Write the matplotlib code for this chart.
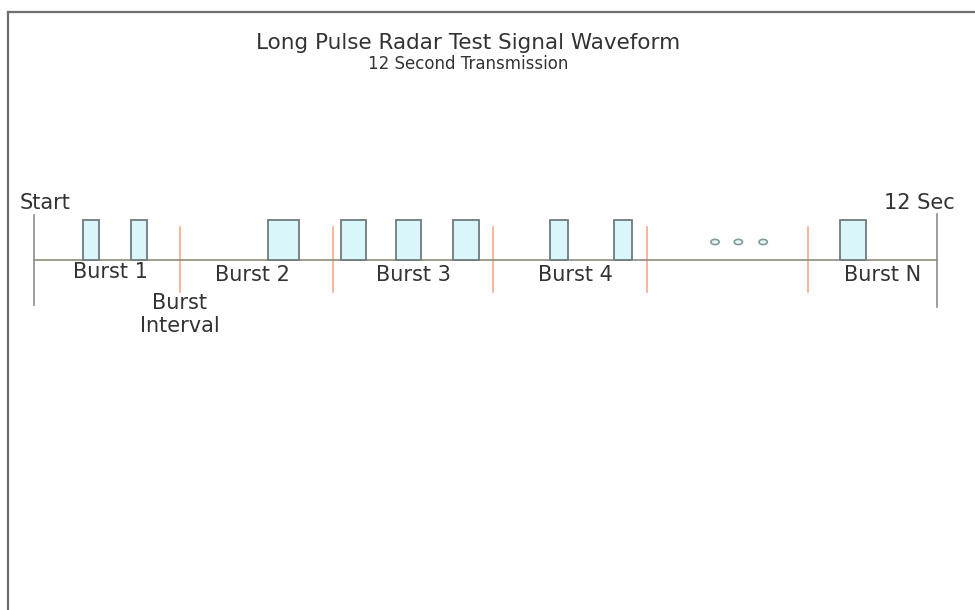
import matplotlib
matplotlib.use('Agg')
import matplotlib.pyplot as plt
from matplotlib.patches import Rectangle, Ellipse
from matplotlib.lines import Line2D

plt.rcParams['font.family'] = ['DejaVu Sans']

# time axis in seconds (0 = start, 12 = end of transmission)
t_start = 0.0
t_end = 12.0

# pulse start times and widths (s), pulse height = 1
pulse_start = [0.65, 1.29, 3.11, 4.08, 4.81, 5.57, 6.86, 7.71, 10.71]
pulse_width = [0.21, 0.21, 0.41, 0.33, 0.33, 0.35, 0.23, 0.24, 0.35]

# burst interval markers (s)
interval_t = [1.94, 3.97, 6.10, 8.15, 10.29]

# continuation dots
dots_t = [9.05, 9.36, 9.69]
dots_y = 0.45

burst_labels = ['Burst 1', 'Burst 2', 'Burst 3', 'Burst 4', 'Burst N']
burst_label_t = [1.01, 2.90, 5.04, 7.19, 11.28]
burst_label_y = [-0.30, -0.38, -0.38, -0.38, -0.38]

fig = plt.figure(figsize=(9.75, 6.1), dpi=100)
ax = fig.add_axes([0, 0, 1, 1])
ax.set_xlim(-0.4518, 12.505)
ax.set_ylim(-8.75, 6.5)
ax.axis('off')

# frame (top and left edges only)
fig.add_artist(Line2D([0.0085, 1.0], [0.980, 0.980], transform=fig.transFigure,
                      color='#6f6f6f', lw=1.6))
fig.add_artist(Line2D([0.0085, 0.0085], [0.0, 0.980], transform=fig.transFigure,
                      color='#6f6f6f', lw=1.6))

# baseline and start/end markers
ax.plot([t_start, t_end], [0, 0], color='#8c8c7c', lw=1.2, zorder=2)
ax.plot([t_start, t_start], [-1.125, 1.125], color='#8c8c8c', lw=1.2)
ax.plot([t_end, t_end], [-1.175, 1.15], color='#8c8c8c', lw=1.2)

# burst interval markers
for t in interval_t:
    ax.plot([t, t], [-0.8, 0.825], color='#f6a98a', lw=1.2, zorder=1)

# pulses
for s, w in zip(pulse_start, pulse_width):
    ax.add_patch(Rectangle((s, 0), w, 1, facecolor='#d9f6fb', edgecolor='#6f7b7b',
                           lw=1.3, zorder=3))

for t in dots_t:
    ax.add_patch(Ellipse((t, dots_y), 0.11, 0.13, facecolor='#e8f6f8',
                         edgecolor='#7f9c9c', lw=1.2, zorder=3))

lab_fs = 15
for lab, t, y in zip(burst_labels, burst_label_t, burst_label_y):
    ax.text(t, y, lab, ha='center', va='center', fontsize=lab_fs, color='#333333')

ax.text(1.94, -1.36, 'Burst\nInterval', ha='center', va='center', fontsize=lab_fs,
        color='#333333', linespacing=1.2)
ax.text(0.15, 1.43, 'Start', ha='center', va='center', fontsize=lab_fs, color='#333333')
ax.text(11.77, 1.43, '12 Sec', ha='center', va='center', fontsize=lab_fs, color='#333333')

fig.text(0.48, 0.930, 'Long Pulse Radar Test Signal Waveform', ha='center', va='center',
         fontsize=15.5, color='#333333')
fig.text(0.480, 0.895, '12 Second Transmission', ha='center', va='center',
         fontsize=12, color='#333333')

fig.savefig('out.png', dpi=100, facecolor='white')
